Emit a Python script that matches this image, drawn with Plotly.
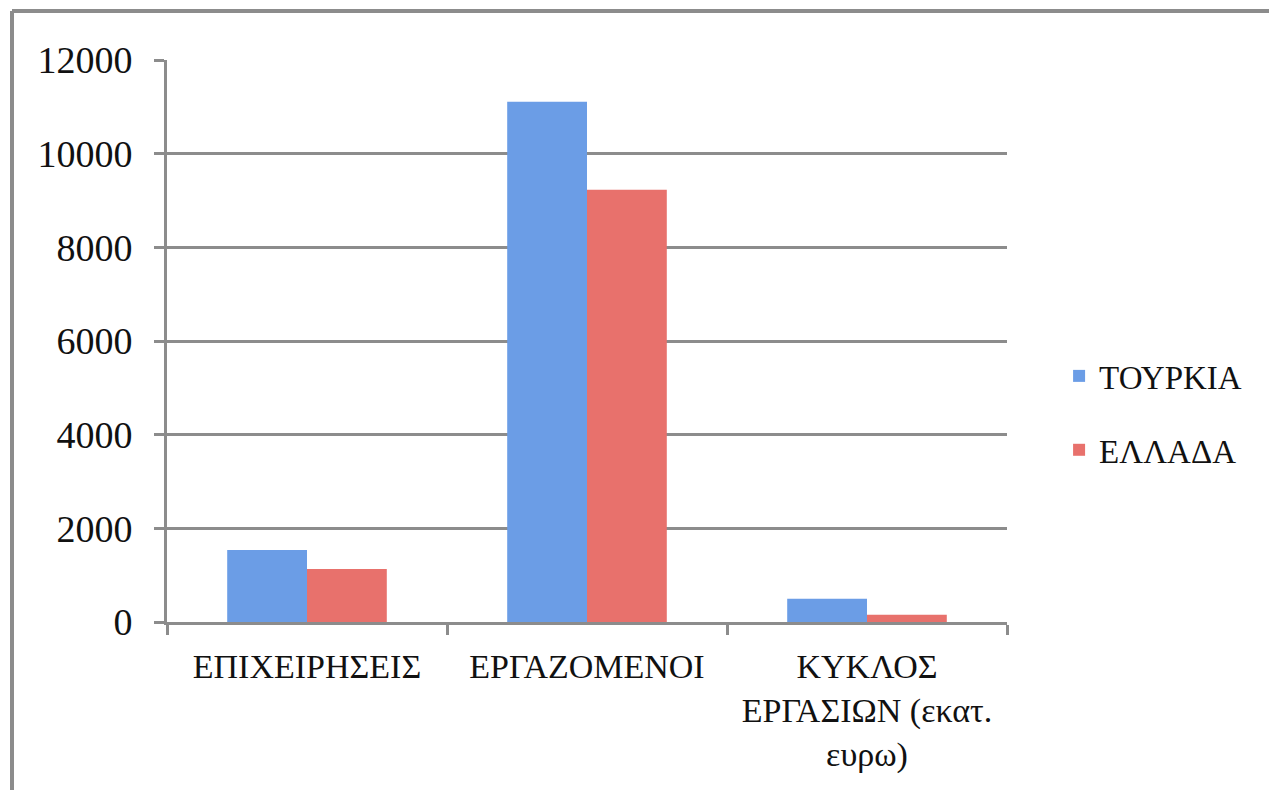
import plotly.graph_objects as go

categories = ["ΕΠΙΧΕΙΡΗΣΕΙΣ", "ΕΡΓΑΖΟΜΕΝΟΙ", "ΚΥΚΛΟΣ<br>ΕΡΓΑΣΙΩΝ (εκατ.<br>ευρω)"]
turkey = [1540, 11110, 495]
greece = [1130, 9230, 155]
y_ticks = [0, 2000, 4000, 6000, 8000, 10000, 12000]
y_tick_text = ["0", "2000", "4000", "6000", "8000", "10000", "12000"]

FONT = "Liberation Serif"
GRID = "#8c8c8c"

fig = go.Figure()
fig.add_trace(go.Bar(name="ΤΟΥΡΚΙΑ", x=categories, y=turkey,
                     marker=dict(color="#6b9de6", line=dict(width=0)),
                     legendgroup="a"))
fig.add_trace(go.Bar(name="ΕΛΛΑΔΑ", x=categories, y=greece,
                     marker=dict(color="#e8716c", line=dict(width=0)),
                     legendgroup="b"))

fig.update_layout(
    width=1261, height=782,
    margin=dict(l=159, r=262, t=52, b=168, autoexpand=False),
    paper_bgcolor="white", plot_bgcolor="white",
    barmode="group", bargap=0.43, bargroupgap=0,
    font=dict(family=FONT, size=34, color="#111111"),
    showlegend=True,
    legend=dict(x=1.062, y=0.372, xanchor="left", yanchor="middle",
                font=dict(family=FONT, size=33, color="#111111"),
                tracegroupgap=28, itemwidth=30, bgcolor="rgba(0,0,0,0)"),
    xaxis=dict(showline=True, linecolor=GRID, linewidth=3,
               ticks="outside", tickson="boundaries", ticklen=10,
               tickwidth=3, tickcolor=GRID, ticklabelstandoff=12,
               tickfont=dict(family=FONT, size=34, color="#111111")),
    yaxis=dict(range=[0, 12000], tickvals=y_ticks, ticktext=y_tick_text,
               showgrid=True, gridcolor=GRID, gridwidth=3, zeroline=False,
               showline=True, linecolor=GRID, linewidth=3,
               ticks="outside", ticklen=10, tickwidth=3, tickcolor=GRID,
               ticklabelstandoff=14,
               tickfont=dict(family=FONT, size=38, color="#111111")),
)

# outer frame (top and left edges)
fig.add_shape(type="line", xref="paper", yref="paper",
              x0=(12 - 167) / 840, x1=(1269 - 167) / 840,
              y0=(622 - 11) / 562, y1=(622 - 11) / 562,
              line=dict(color=GRID, width=4))
fig.add_shape(type="line", xref="paper", yref="paper",
              x0=(12 - 167) / 840, x1=(12 - 167) / 840,
              y0=(622 - 11) / 562, y1=(622 - 790) / 562,
              line=dict(color=GRID, width=4))

fig.write_html("out.html", config={"displayModeBar": False})
